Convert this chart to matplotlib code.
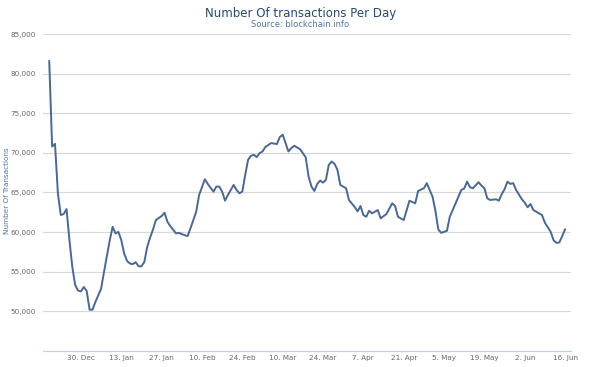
import matplotlib
matplotlib.use("Agg")
import matplotlib.pyplot as plt
import matplotlib.dates as mdates
import pandas as pd

# values (blockchain.info, Dec 2013 - Jun 2014)
dates = [
    "2013-12-19", "2013-12-20", "2013-12-21", "2013-12-22", "2013-12-23", "2013-12-24",
    "2013-12-25", "2013-12-26", "2013-12-27", "2013-12-28", "2013-12-29", "2013-12-30",
    "2013-12-31", "2014-01-01", "2014-01-02", "2014-01-03", "2014-01-04", "2014-01-06",
    "2014-01-07", "2014-01-09", "2014-01-10", "2014-01-11", "2014-01-12", "2014-01-13",
    "2014-01-14", "2014-01-15", "2014-01-16", "2014-01-17", "2014-01-18", "2014-01-19",
    "2014-01-20", "2014-01-21", "2014-01-22", "2014-01-23", "2014-01-24", "2014-01-25",
    "2014-01-27", "2014-01-28", "2014-01-29", "2014-01-30", "2014-02-01", "2014-02-02",
    "2014-02-03", "2014-02-05", "2014-02-06", "2014-02-08", "2014-02-09", "2014-02-11",
    "2014-02-12", "2014-02-14", "2014-02-15", "2014-02-16", "2014-02-17", "2014-02-18",
    "2014-02-19", "2014-02-21", "2014-02-22", "2014-02-23", "2014-02-24", "2014-02-25",
    "2014-02-26", "2014-02-27", "2014-02-28", "2014-03-01", "2014-03-02", "2014-03-03",
    "2014-03-04", "2014-03-06", "2014-03-08", "2014-03-09", "2014-03-10", "2014-03-11",
    "2014-03-12", "2014-03-13", "2014-03-14", "2014-03-16", "2014-03-17", "2014-03-18",
    "2014-03-19", "2014-03-20", "2014-03-21", "2014-03-22", "2014-03-23", "2014-03-24",
    "2014-03-25", "2014-03-26", "2014-03-27", "2014-03-28", "2014-03-29", "2014-03-30",
    "2014-04-01", "2014-04-02", "2014-04-04", "2014-04-05", "2014-04-06", "2014-04-07",
    "2014-04-08", "2014-04-09", "2014-04-10", "2014-04-12", "2014-04-13", "2014-04-15",
    "2014-04-17", "2014-04-18", "2014-04-19", "2014-04-21", "2014-04-23", "2014-04-25",
    "2014-04-26", "2014-04-28", "2014-04-29", "2014-05-01", "2014-05-02", "2014-05-03",
    "2014-05-04", "2014-05-06", "2014-05-07", "2014-05-09", "2014-05-11", "2014-05-12",
    "2014-05-13", "2014-05-14", "2014-05-15", "2014-05-17", "2014-05-18", "2014-05-19",
    "2014-05-20", "2014-05-21", "2014-05-23", "2014-05-24", "2014-05-25", "2014-05-26",
    "2014-05-27", "2014-05-28", "2014-05-29", "2014-05-30", "2014-06-01", "2014-06-02",
    "2014-06-03", "2014-06-04", "2014-06-05", "2014-06-06", "2014-06-08", "2014-06-09",
    "2014-06-11", "2014-06-12", "2014-06-13", "2014-06-14", "2014-06-15", "2014-06-16",
]
transactions = [
    81600, 70800, 71150, 64900, 62150, 62270,
    62900, 59000, 55600, 53300, 52600, 52500,
    53050, 52540, 50180, 50180, 51140, 52840,
    54950, 58970, 60660, 59820, 60020, 58970,
    57280, 56340, 56010, 55950, 56180, 55670,
    55670, 56220, 58120, 59300, 60300, 61510,
    62020, 62440, 61300, 60750, 59820, 59900,
    59730, 59480, 60460, 62560, 64680, 66670,
    66080, 65100, 65740, 65740, 65100, 63960,
    64680, 65950, 65320, 64900, 65100, 67220,
    69120, 69630, 69760, 69470, 69970, 70180,
    70740, 71240, 71120, 72000, 72300, 71240,
    70180, 70610, 70900, 70480, 69970, 69420,
    67000, 65740, 65190, 66080, 66500, 66240,
    66590, 68490, 68910, 68620, 67860, 65950,
    65530, 64050, 63160, 62600, 63290, 62140,
    61930, 62690, 62360, 62780, 61730, 62270,
    63630, 63290, 61930, 61510, 63960, 63630,
    65190, 65530, 66170, 64470, 62690, 60330,
    59900, 60150, 61930, 63630, 65320, 65500,
    66370, 65660, 65530, 66290, 65860, 65530,
    64260, 64050, 64140, 63960, 64770, 65410,
    66370, 66080, 66170, 65320, 64140, 63710,
    63120, 63540, 62780, 62560, 62140, 61170,
    60030, 58970, 58630, 58680, 59480, 60330,
]
x_ticks = ["2013-12-30", "2014-01-13", "2014-01-27", "2014-02-10", "2014-02-24",
           "2014-03-10", "2014-03-24", "2014-04-07", "2014-04-21", "2014-05-05",
           "2014-05-19", "2014-06-02", "2014-06-16"]
y_ticks = [50000, 55000, 60000, 65000, 70000, 75000, 80000, 85000]

plt.rcParams['font.family'] = ['DejaVu Sans']

fig = plt.figure(figsize=(5.98, 3.67), dpi=100)
ax = fig.add_axes([0.0719, 0.0444, 0.8831, 0.8624])

ax.plot(pd.to_datetime(dates), transactions, color='#4a6890', linewidth=1.4,
        solid_joinstyle='round')

ax.set_ylim(45000, 85000)
ax.set_xlim(pd.Timestamp("2013-12-16 20:00"), pd.Timestamp("2014-06-18 02:00"))

ax.set_yticks(y_ticks)
ax.set_yticklabels([f"{v:,}" for v in y_ticks])
ax.set_xticks(pd.to_datetime(x_ticks))
ax.xaxis.set_major_formatter(
    plt.FuncFormatter(lambda v, pos: f"{mdates.num2date(v).day}. {mdates.num2date(v):%b}"))

ax.grid(axis='y', color='#d8d8d8', linewidth=0.9)
ax.set_axisbelow(True)
for side in ['top', 'right', 'left']:
    ax.spines[side].set_visible(False)
ax.spines['bottom'].set_color('#c0d0e0')
ax.spines['bottom'].set_linewidth(0.9)
ax.tick_params(axis='both', length=0, labelsize=5.2, labelcolor='#666666')
ax.tick_params(axis='x', pad=3)
ax.tick_params(axis='y', pad=5)

fig.text(0.502, 0.962, "Number Of transactions Per Day", ha='center', va='center',
         fontsize=8.5, color='#274b6d')
fig.text(0.502, 0.934, "Source: blockchain.info", ha='center', va='center',
         fontsize=6, color='#4d759e')
fig.text(0.011, 0.48, "Number Of Transactions", rotation=90, ha='center', va='center',
         fontsize=5.2, color='#4d759e')

fig.savefig("out.png", dpi=100)
